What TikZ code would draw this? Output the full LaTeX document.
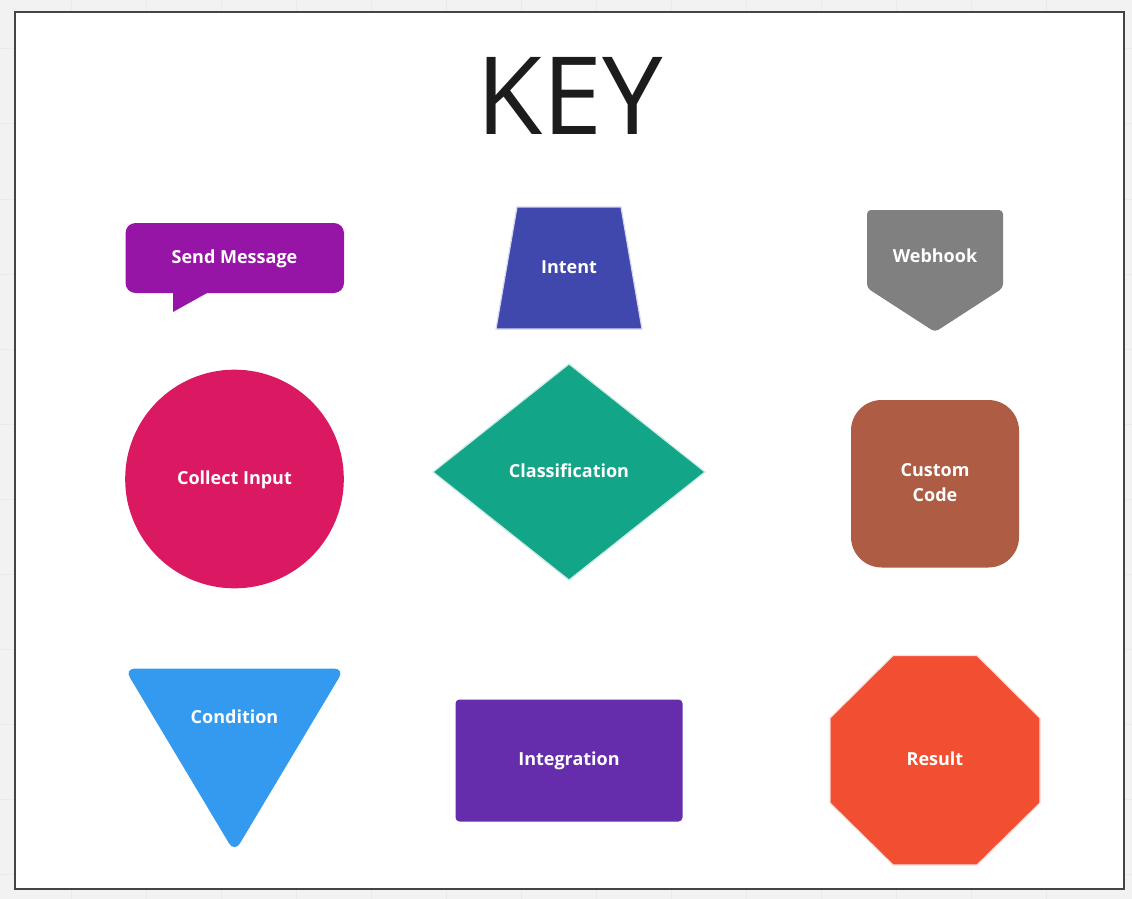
\documentclass[tikz,border=0pt]{standalone}
\usepackage{fontspec}
\setmainfont{Open Sans}
\definecolor{pagebg}{HTML}{F2F2F2}
\definecolor{gridc}{HTML}{EAEAEA}
\definecolor{framec}{HTML}{444444}
\definecolor{titlec}{HTML}{1C1C1C}
\definecolor{csend}{HTML}{9715A6}
\definecolor{cintent}{HTML}{4148AD}
\definecolor{chook}{HTML}{808080}
\definecolor{ccollect}{HTML}{DA1962}
\definecolor{cclass}{HTML}{12A588}
\definecolor{ccode}{HTML}{AE5C43}
\definecolor{ccond}{HTML}{339AEF}
\definecolor{cinteg}{HTML}{652CAC}
\definecolor{cresult}{HTML}{F24E32}
\tikzset{
  lbl/.style={text=white,font=\bfseries\fontsize{13.5pt}{18.75pt}\selectfont,align=center,inner sep=0pt},
  ttl/.style={text=titlec,font=\fontsize{81pt}{90pt}\selectfont,inner sep=0pt},
  edged/.style={line width=0.9pt,line join=miter}
}
\begin{document}
\begin{tikzpicture}[x=0.75pt,y=-0.75pt]
\useasboundingbox (0,0) rectangle (1132,899);
\fill[pagebg] (0,0) rectangle (1132,899);
\foreach \gx in {71.5,146.5,...,1100}{\draw[gridc,line width=0.75pt] (\gx,0) -- (\gx,899);}
\foreach \gy in {49,124,...,899}{\draw[gridc,line width=0.75pt] (0,\gy) -- (1132,\gy);}
\draw[framec,fill=white,line width=1.5pt] (14.5,12.5) rectangle (1123.5,888.5);
% shapes
\fill[csend,rounded corners=7.5pt] (125.5,223) -- (344,223) -- (344,293) -- (125.5,293) -- cycle;
\fill[csend] (173,290) -- (173,312) -- (207,293) -- (207,290) -- cycle;
\draw[edged,draw=cintent!22!white,fill=cintent] (517,207) -- (621,207) -- (642,329) -- (496,329) -- cycle;
\fill[chook,rounded corners=3pt] (867,210) -- (1003,210) -- (1003,288) -- (935,332) -- (867,288) -- cycle;
\fill[ccollect] (234.5,479) circle[radius=82pt];
\draw[edged,draw=cclass!22!white,fill=cclass] (569,364) -- (705,472) -- (569,580) -- (433,472) -- cycle;
\fill[ccode,rounded corners=23pt] (851,400) -- (1019,400) -- (1019,567.5) -- (851,567.5) -- cycle;
\fill[ccond,rounded corners=8pt] (124.5,668.5) -- (344.5,668.5) -- (234.5,852.5) -- cycle;
\fill[cinteg,rounded corners=3pt] (455.5,699.5) -- (682.5,699.5) -- (682.5,821.5) -- (455.5,821.5) -- cycle;
\draw[edged,draw=cresult!18!white,fill=cresult] (893,655.5) -- (977,655.5) -- (1040,718) -- (1040,803) -- (977,865) -- (893,865) -- (830,803) -- (830,718) -- cycle;
% labels
\node[ttl] (title) at (570,96) {KEY};
\node[lbl] (send) at (234.5,258.5) {Send Message};
\node[lbl] (intent) at (569,267.5) {Intent};
\node[lbl] (hook) at (935,255.5) {Webhook};
\node[lbl] (collect) at (234.5,479.5) {Collect Input};
\node[lbl] (class) at (569,470.5) {Classification};
\node[lbl] (code) at (935,483) {Custom\\Code};
\node[lbl] (cond) at (234.5,716.5) {Condition};
\node[lbl] (integ) at (569,760.5) {Integration};
\node[lbl] (result) at (935,758.5) {Result};
\end{tikzpicture}
\end{document}
